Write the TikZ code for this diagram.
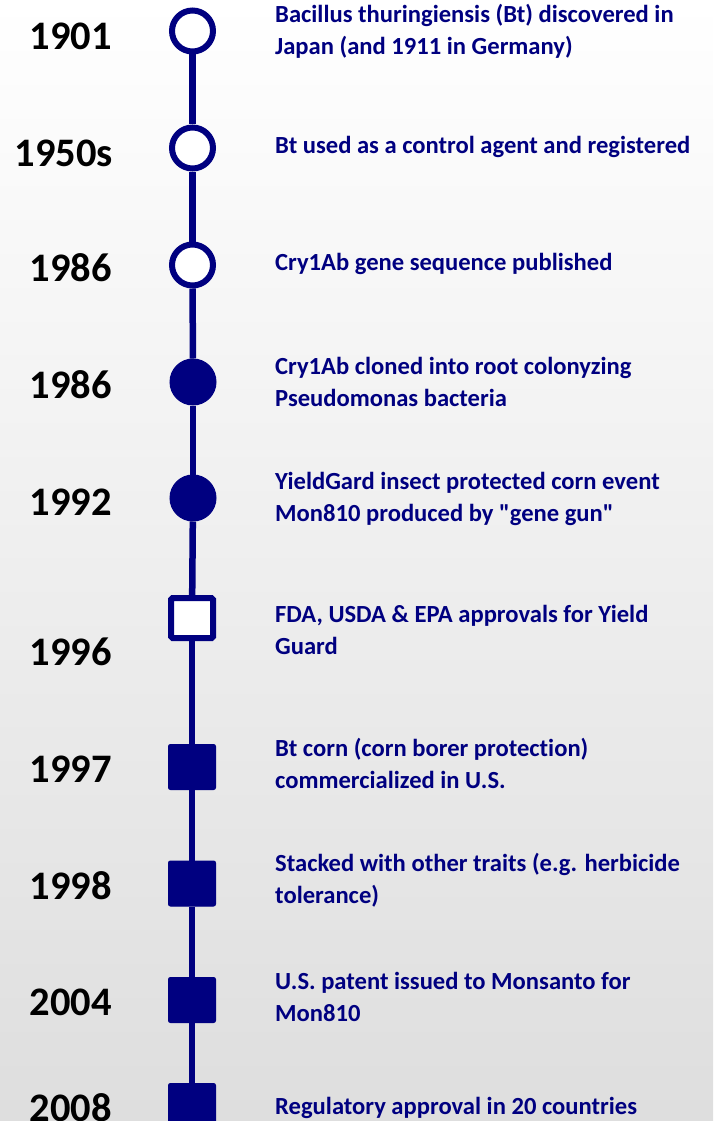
\documentclass[tikz,border=0pt]{standalone}
\usepackage{fontspec}
\setmainfont{Carlito}[Ligatures={NoCommon,TeXOff}]
\definecolor{navy}{RGB}{0,0,128}
\begin{document}
\begin{tikzpicture}[x=1pt,y=-1pt,
  yearlbl/.style={anchor=east,inner sep=0pt,text=black,font=\fontsize{40.5}{42}\selectfont\bfseries},
  desc/.style={anchor=west,inner sep=0pt,align=left,text=navy,font=\fontsize{24.6}{32}\selectfont\bfseries},
  opencirc/.style={circle,draw=navy,line width=6pt,fill=white,minimum size=41pt,inner sep=0pt},
  fullcirc/.style={circle,draw=navy,line width=1pt,fill=navy,minimum size=46pt,inner sep=0pt},
  opensq/.style={rectangle,draw=navy,line width=6pt,fill=white,minimum width=42pt,minimum height=40pt,inner sep=0pt,rounded corners=1.5pt},
  fullsq/.style={rectangle,draw=navy,line width=1pt,fill=navy,minimum width=47pt,minimum height=45pt,inner sep=0pt,rounded corners=2pt},
  tline/.style={draw=navy,line width=6.5pt}]
\useasboundingbox (0,0) rectangle (713,1121);
\clip (0,0) rectangle (713,1121);
\shade[top color=white,bottom color=black!13] (0,0) rectangle (713,1121);

% markers
\node[opencirc] (m1) at (192.5,31) {};
\node[opencirc] (m2) at (192.5,148) {};
\node[opencirc] (m3) at (192.5,265) {};
\node[fullcirc] (m4) at (193,382) {};
\node[fullcirc] (m5) at (193,498) {};
\node[opensq] (m6) at (192,618) {};
\node[fullsq] (m7) at (192,767) {};
\node[fullsq] (m8) at (192,883.5) {};
\node[fullsq] (m9) at (192,1000) {};
\node[fullsq] (m10) at (192,1106) {};

% connectors
\draw[tline] (m1) -- (m2);
\draw[tline] (m2) -- (m3);
\draw[tline] (m3) -- (m4);
\draw[tline] (m4) -- (m5);
\draw[tline] (m5) -- (m6);
\draw[tline] (m6) -- (m7);
\draw[tline] (m7) -- (m8);
\draw[tline] (m8) -- (m9);
\draw[tline] (m9) -- (m10);

% years
\node[yearlbl] (y1) at (112,36) {1901};
\node[yearlbl] (y2) at (113,153) {1950s};
\node[yearlbl] (y3) at (112,268) {1986};
\node[yearlbl] (y4) at (112,385) {1986};
\node[yearlbl] (y5) at (112,502) {1992};
\node[yearlbl] (y6) at (112,652) {1996};
\node[yearlbl] (y7) at (112,769) {1997};
\node[yearlbl] (y8) at (112,886) {1998};
\node[yearlbl] (y9) at (112,1002) {2004};
\node[yearlbl] (y10) at (112,1108) {2008};

% descriptions
\node[desc] (d1) at (275,31) {Bacillus thuringiensis (Bt) discovered in\\Japan (and 1911 in Germany)};
\node[desc] (d2) at (275,147) {Bt used as a control agent and registered};
\node[desc] (d3) at (275,264) {Cry1Ab gene sequence published};
\node[desc] (d4) at (275,382) {Cry1Ab cloned into root colonyzing\\Pseudomonas bacteria};
\node[desc] (d5) at (275,499) {YieldGard insect protected corn event\\Mon810 produced by "gene gun"};
\node[desc] (d6) at (275,629.5) {FDA, USDA \& EPA approvals for Yield\\Guard};
\node[desc] (d7) at (275,763) {Bt corn (corn borer protection)\\commercialized in U.S.};
\node[desc] (d8) at (275,880) {Stacked with other traits (e.g. herbicide\\tolerance)};
\node[desc] (d9) at (275,997) {U.S. patent issued to Monsanto for\\Mon810};
\node[desc] (d10) at (275,1108) {Regulatory approval in 20 countries};
\end{tikzpicture}
\end{document}
